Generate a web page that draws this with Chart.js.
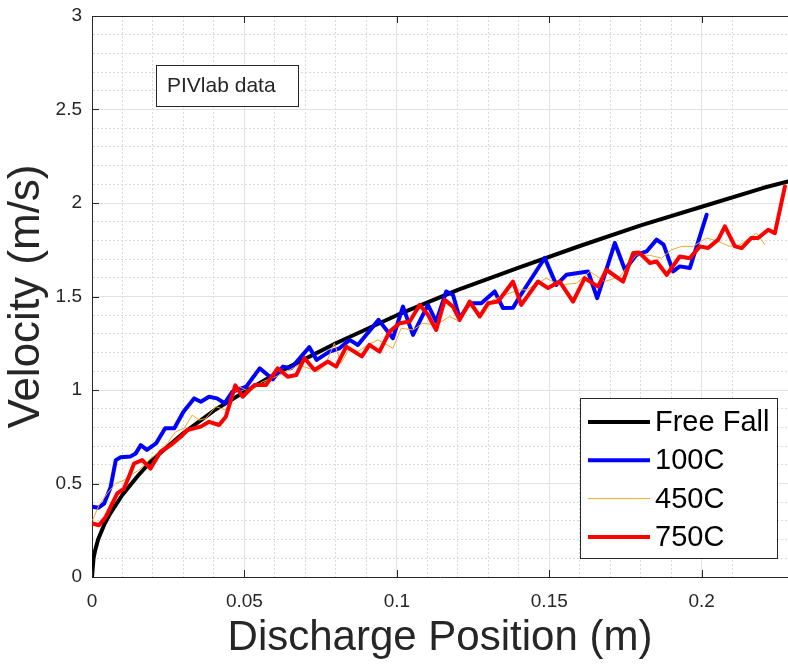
<!DOCTYPE html>
<html>
<head>
<meta charset="utf-8">
<title>Velocity vs Discharge Position</title>
<script src="https://cdn.jsdelivr.net/npm/chart.js@4.4.1/dist/chart.umd.min.js"></script>
<style>
  html, body { margin: 0; padding: 0; background: #ffffff; }
  #wrap { width: 788px; height: 666px; }
</style>
</head>
<body>
<div id="wrap"><canvas id="velChart" width="788" height="666"></canvas></div>
<script>
// values (x in m, y in m/s)
const freeFallX = [0, 0.0005, 0.001, 0.002, 0.004, 0.006, 0.01, 0.015, 0.02, 0.03, 0.04, 0.05, 0.06, 0.08, 0.1, 0.12, 0.14, 0.16, 0.18, 0.2, 0.22, 0.2283];
const freeFallY = [0, 0.10, 0.14, 0.20, 0.28, 0.34, 0.44, 0.54, 0.63, 0.77, 0.89, 0.99, 1.085, 1.25, 1.40, 1.535, 1.655, 1.77, 1.88, 1.98, 2.08, 2.115];

const c100X = [0.0002, 0.002, 0.004, 0.0061, 0.0078, 0.0094, 0.0127, 0.0143, 0.016, 0.018,
  0.021, 0.024, 0.027, 0.030, 0.0335, 0.0357, 0.0384, 0.041, 0.0435, 0.046,
  0.0506, 0.055, 0.0593, 0.0626, 0.0653, 0.0713, 0.0737, 0.0779, 0.0812, 0.0845,
  0.0872, 0.094, 0.0987, 0.102, 0.1053, 0.108, 0.1102, 0.1129, 0.1162, 0.1184,
  0.1206, 0.1239, 0.1277, 0.1321, 0.1348, 0.1381, 0.1403, 0.1485, 0.1523, 0.1556,
  0.1627, 0.1657, 0.1687, 0.1715, 0.1748, 0.1786, 0.1819, 0.1852, 0.1875, 0.1906,
  0.1928, 0.1961, 0.2016];
const c100Y = [0.376, 0.37, 0.393, 0.48, 0.625, 0.64, 0.645, 0.66, 0.705, 0.68,
  0.714, 0.795, 0.795, 0.884, 0.955, 0.937, 0.964, 0.955, 0.929, 0.99,
  1.018, 1.116, 1.057, 1.125, 1.116, 1.229, 1.161, 1.205, 1.223, 1.268,
  1.241, 1.375, 1.277, 1.446, 1.295, 1.384, 1.455, 1.366, 1.527, 1.509,
  1.384, 1.464, 1.464, 1.527, 1.438, 1.44, 1.5, 1.706, 1.562, 1.616,
  1.634, 1.491, 1.643, 1.786, 1.643, 1.723, 1.741, 1.804, 1.777, 1.634,
  1.661, 1.652, 1.937];

const c450X = [0.0002, 0.0023, 0.005, 0.0078, 0.0105, 0.0127, 0.0154, 0.018, 0.0214, 0.0247,
  0.0274, 0.0302, 0.0329, 0.0351, 0.0373, 0.0406, 0.0439, 0.0466, 0.0483, 0.0516,
  0.056, 0.0604, 0.0648, 0.068, 0.0741, 0.0768, 0.0795, 0.0817, 0.0845, 0.0872,
  0.0905, 0.0938, 0.0987, 0.1014, 0.1053, 0.1085, 0.1129, 0.1173, 0.1206, 0.1239,
  0.1282, 0.1315, 0.137, 0.1403, 0.1425, 0.149, 0.1534, 0.1589, 0.1633, 0.1682,
  0.1731, 0.1786, 0.183, 0.1868, 0.1901, 0.1934, 0.1972, 0.2016, 0.2054, 0.2092,
  0.2125, 0.218, 0.2207];
const c450Y = [0.304, 0.384, 0.447, 0.5, 0.518, 0.545, 0.571, 0.616, 0.661, 0.714,
  0.777, 0.795, 0.866, 0.839, 0.848, 0.911, 0.893, 0.982, 1.018, 0.991,
  1.045, 1.071, 1.107, 1.134, 1.098, 1.143, 1.25, 1.143, 1.223, 1.205,
  1.241, 1.268, 1.223, 1.33, 1.321, 1.357, 1.348, 1.393, 1.366, 1.446,
  1.402, 1.482, 1.518, 1.536, 1.536, 1.598, 1.562, 1.571, 1.634, 1.58,
  1.607, 1.723, 1.72, 1.705, 1.75, 1.768, 1.768, 1.813, 1.795, 1.768,
  1.777, 1.839, 1.777];

const c750X = [0.0002, 0.0023, 0.0045, 0.0083, 0.0105, 0.0121, 0.0138, 0.0165, 0.0192, 0.0225,
  0.0258, 0.0291, 0.0313, 0.0357, 0.0384, 0.0417, 0.0439, 0.047, 0.0494, 0.0533,
  0.0571, 0.0609, 0.0642, 0.067, 0.0697, 0.073, 0.0773, 0.0801, 0.0834, 0.0885,
  0.091, 0.0943, 0.0976, 0.1009, 0.1042, 0.1075, 0.1102, 0.1129, 0.1157, 0.1184,
  0.1206, 0.1239, 0.1272, 0.1299, 0.1332, 0.1381, 0.1408, 0.1463, 0.1496, 0.1534,
  0.1578, 0.1616, 0.166, 0.1687, 0.1742, 0.1775, 0.1795, 0.183, 0.1852, 0.1885,
  0.1928, 0.1961, 0.1994, 0.2021, 0.2054, 0.2076, 0.2109, 0.2131, 0.2163, 0.2185,
  0.2218, 0.224, 0.2273];
const c750Y = [0.286, 0.277, 0.321, 0.447, 0.473, 0.536, 0.607, 0.625, 0.58, 0.67,
  0.705, 0.75, 0.786, 0.804, 0.83, 0.813, 0.857, 1.025, 0.964, 1.027,
  1.027, 1.116, 1.071, 1.08, 1.17, 1.107, 1.152, 1.125, 1.232, 1.18,
  1.241, 1.205, 1.312, 1.357, 1.366, 1.455, 1.402, 1.321, 1.482, 1.446,
  1.375, 1.473, 1.393, 1.464, 1.473, 1.58, 1.455, 1.58, 1.545, 1.58,
  1.473, 1.598, 1.553, 1.643, 1.58, 1.732, 1.735, 1.679, 1.687, 1.616,
  1.714, 1.705, 1.768, 1.759, 1.804, 1.875, 1.768, 1.759, 1.813, 1.813,
  1.857, 1.839, 2.089];

const seriesNames = ["Free Fall", "100C", "450C", "750C"];
const seriesColors = ["#000000", "#0000ff", "#f0aa28", "#ff0000"];
const seriesWidths = [4, 4, 1, 4];

const xTickMajor = 0.05;
const yTickMajor = 0.5;
const noteText = "PIVlab data";

const FONT = "'Liberation Sans', Arial, sans-serif";
const INK = "#262626";

function toPoints(xs, ys) {
  return xs.map((x, i) => ({ x: x, y: ys[i] }));
}

function isMajor(v, step) {
  const r = v / step;
  return Math.abs(r - Math.round(r)) < 1e-6;
}

const allX = [freeFallX, c100X, c450X, c750X];
const allY = [freeFallY, c100Y, c450Y, c750Y];

// free fall under the measurements, red on top
const datasets = seriesNames.map((name, i) => ({
  label: name,
  data: toPoints(allX[i], allY[i]),
  borderColor: seriesColors[i],
  backgroundColor: seriesColors[i],
  borderWidth: seriesWidths[i],
  borderJoinStyle: "round",
  borderCapStyle: "round",
  pointRadius: 0,
  tension: 0,
  fill: false,
  order: i === 0 ? 4 : 4 - i
}));

const gridColor = step => c => (c.tick && isMajor(c.tick.value, step)) ? "#e2e2e2" : "#dadada";
const gridDash = step => c => (c.tick && !isMajor(c.tick.value, step)) ? [2, 2] : [];

const framePlugin = {
  id: "frame",
  afterDraw(chart) {
    const ctx = chart.ctx;
    const a = chart.chartArea;
    const xs = chart.scales.x;
    const ys = chart.scales.y;
    ctx.save();
    ctx.strokeStyle = INK;
    ctx.lineWidth = 1;
    ctx.setLineDash([]);
    // top border
    ctx.beginPath();
    ctx.moveTo(a.left, a.top + 0.5);
    ctx.lineTo(a.right, a.top + 0.5);
    ctx.stroke();
    // inward major ticks
    ctx.beginPath();
    xs.ticks.forEach(t => {
      if (!isMajor(t.value, xTickMajor)) return;
      const px = Math.round(xs.getPixelForValue(t.value)) + 0.5;
      ctx.moveTo(px, a.bottom); ctx.lineTo(px, a.bottom - 7);
      ctx.moveTo(px, a.top); ctx.lineTo(px, a.top + 7);
    });
    ys.ticks.forEach(t => {
      if (!isMajor(t.value, yTickMajor)) return;
      const py = Math.round(ys.getPixelForValue(t.value)) + 0.5;
      ctx.moveTo(a.left, py); ctx.lineTo(a.left + 7, py);
    });
    ctx.stroke();

    // text note box, placed in data units
    const nx0 = xs.getPixelForValue(0.021), nx1 = xs.getPixelForValue(0.0677);
    const ny0 = ys.getPixelForValue(2.74), ny1 = ys.getPixelForValue(2.52);
    ctx.fillStyle = "#ffffff";
    ctx.fillRect(nx0, ny0, nx1 - nx0, ny1 - ny0);
    ctx.strokeStyle = INK;
    ctx.strokeRect(Math.round(nx0) + 0.5, Math.round(ny0) + 0.5, Math.round(nx1 - nx0), Math.round(ny1 - ny0));
    ctx.fillStyle = INK;
    ctx.font = "21px " + FONT;
    ctx.textBaseline = "middle";
    ctx.textAlign = "left";
    ctx.fillText(noteText, nx0 + 11, (ny0 + ny1) / 2 + 1);

    // legend box in the lower right corner
    const bw = 197, bh = 160;
    const bx = a.right - 208, by = a.bottom - 179;
    ctx.fillStyle = "#ffffff";
    ctx.fillRect(bx, by, bw, bh);
    ctx.strokeStyle = INK;
    ctx.strokeRect(bx + 0.5, by + 0.5, bw, bh);
    ctx.font = "29px " + FONT;
    chart.data.datasets.forEach((ds, i) => {
      const cy = by + 24 + i * 38.3;
      ctx.strokeStyle = ds.borderColor;
      ctx.lineWidth = ds.borderWidth;
      ctx.beginPath();
      ctx.moveTo(bx + 8, cy);
      ctx.lineTo(bx + 70, cy);
      ctx.stroke();
      ctx.fillStyle = "#000000";
      ctx.fillText(ds.label, bx + 75, cy + 1);
    });
    ctx.restore();
  }
};

const ctx = document.getElementById("velChart").getContext("2d");
const chart = new Chart(ctx, {
  type: "line",
  data: { datasets },
  options: {
    responsive: false,
    animation: false,
    devicePixelRatio: 1,
    layout: { padding: { top: 16, right: 0, left: 0, bottom: 0 } },
    plugins: {
      legend: { display: false },
      tooltip: { enabled: false }
    },
    scales: {
      x: {
        type: "linear",
        min: 0,
        max: 0.2283,
        afterFit(scale) {
          scale.height = 89;
          scale.paddingLeft = 0;
          scale.paddingRight = 0;
        },
        border: { display: true, color: INK, width: 1, dash: gridDash(xTickMajor) },
        grid: {
          drawTicks: false,
          color: gridColor(xTickMajor),
          lineWidth: 1
        },
        ticks: {
          stepSize: 0.01,
          autoSkip: false,
          maxRotation: 0,
          maxTicksLimit: 100,
          padding: 13,
          color: INK,
          font: { family: FONT, size: 19 },
          callback: v => isMajor(v, xTickMajor) ? String(Math.round(v * 100) / 100) : ""
        },
        title: {
          display: true,
          text: "Discharge Position (m)",
          color: INK,
          font: { family: FONT, size: 42 },
          padding: { top: 0, bottom: 2 }
        }
      },
      y: {
        min: 0,
        max: 3,
        afterFit(scale) {
          scale.width = 92;
          scale.paddingTop = 0;
          scale.paddingBottom = 0;
        },
        border: { display: true, color: INK, width: 1, dash: gridDash(yTickMajor) },
        grid: {
          drawTicks: false,
          color: gridColor(yTickMajor),
          lineWidth: 1
        },
        ticks: {
          stepSize: 0.1,
          autoSkip: false,
          maxTicksLimit: 100,
          padding: 10,
          color: INK,
          font: { family: FONT, size: 19 },
          callback: v => isMajor(v, yTickMajor) ? String(Math.round(v * 10) / 10) : ""
        },
        title: {
          display: true,
          text: "Velocity (m/s)",
          color: INK,
          font: { family: FONT, size: 44 },
          padding: { top: 0, bottom: 0 }
        }
      }
    }
  },
  plugins: [framePlugin]
});
</script>
</body>
</html>
